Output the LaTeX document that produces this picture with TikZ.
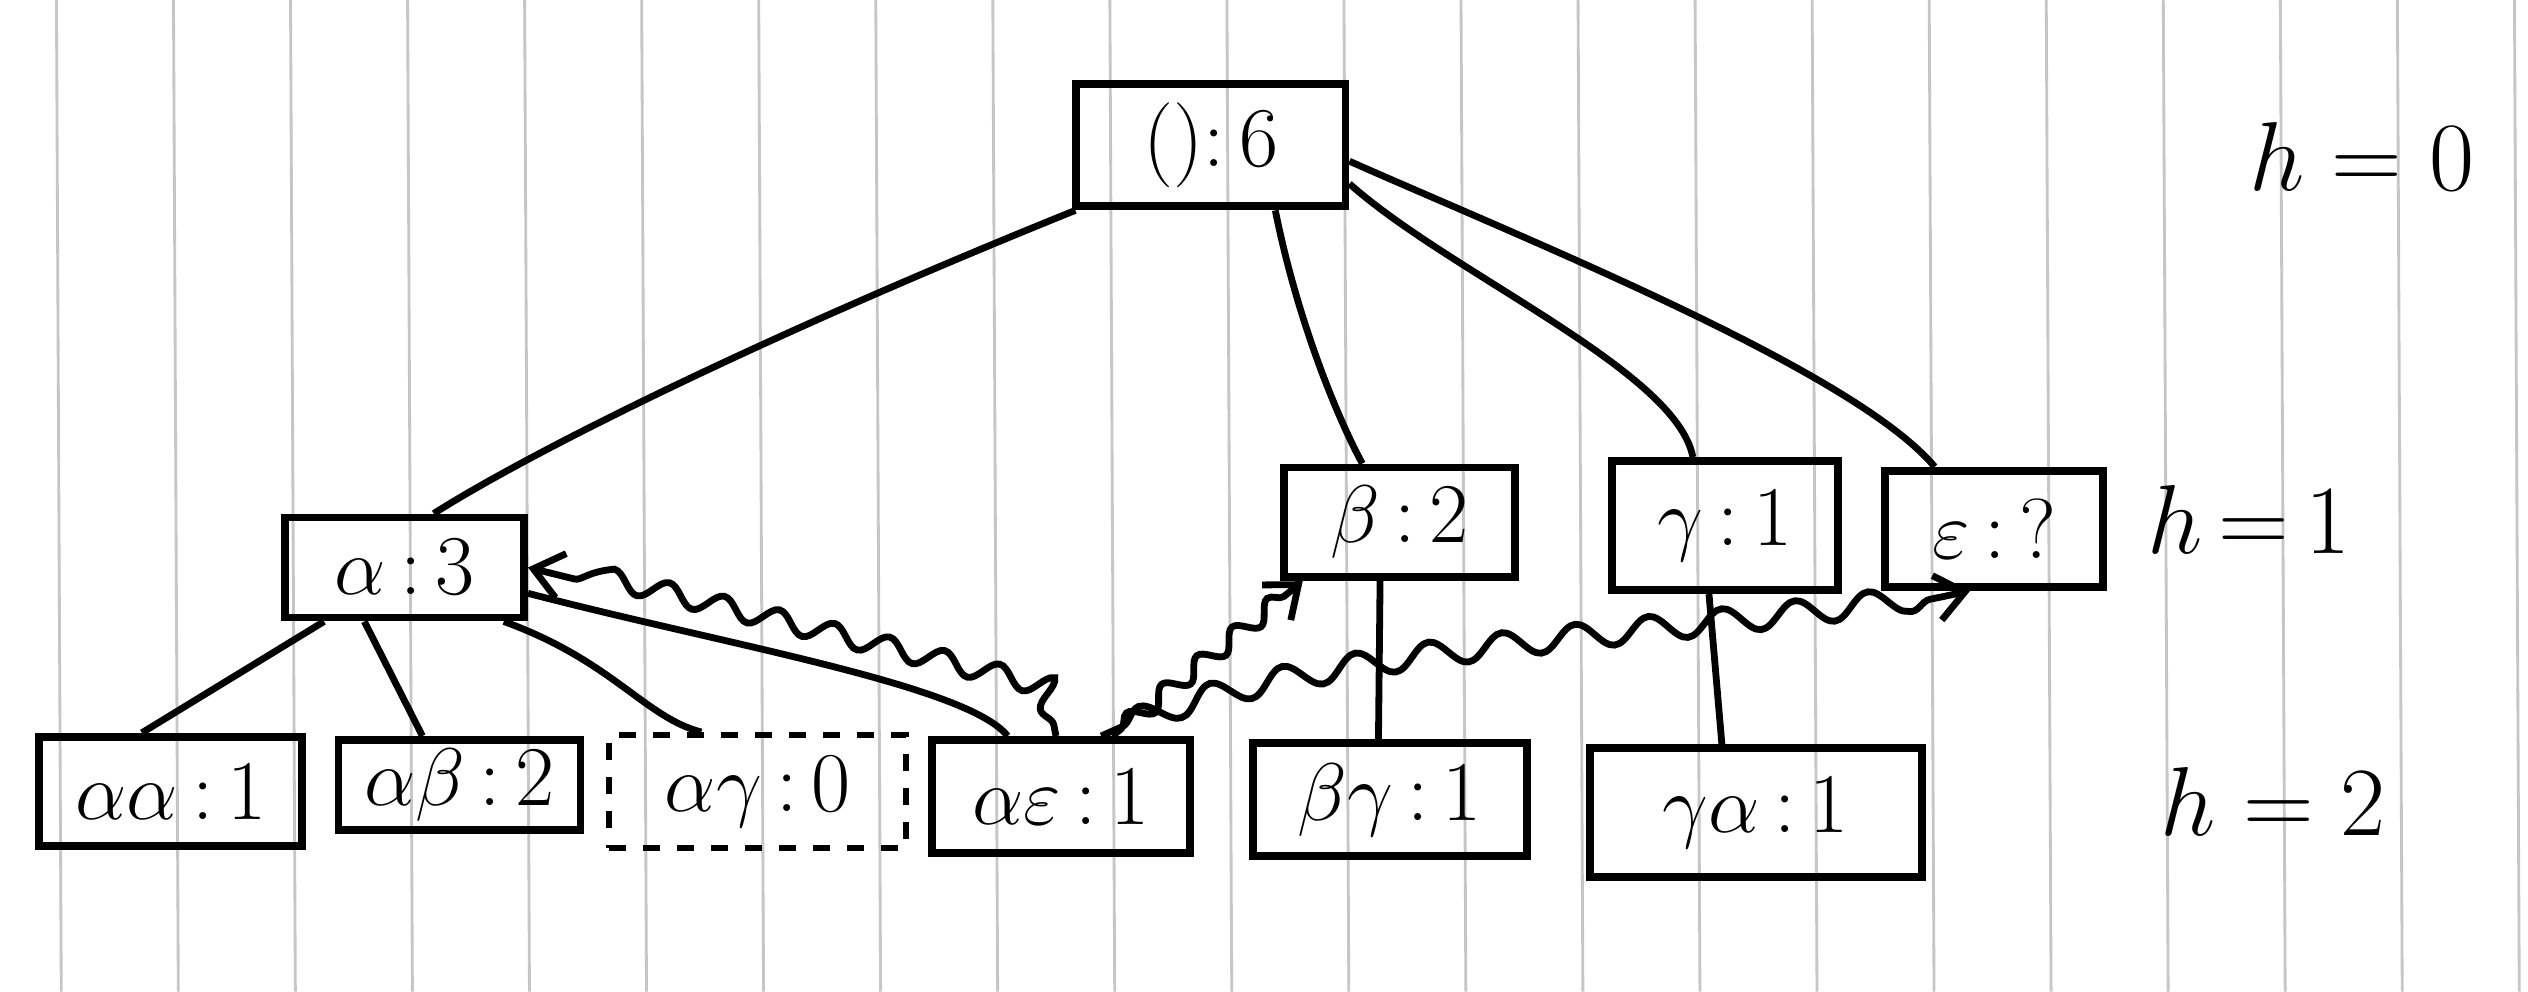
\documentclass[tikz,border=0pt]{standalone}
\usetikzlibrary{decorations.pathmorphing,arrows.meta,calc}
\begin{document}
\begin{tikzpicture}[x=0.01cm,y=-0.01cm,
  box/.style={draw,line width=1.4pt,inner sep=0pt,font=\fontsize{15}{18}\selectfont},
  dbox/.style={box,line width=1.1pt,dash pattern=on 3pt off 3pt},
  conn/.style={line width=1.2pt},
  wavy/.style={line width=1.2pt,decorate,decoration={snake,amplitude=1.8pt,segment length=10pt,pre length=2pt,post length=4pt},-{Straight Barb[length=5pt,width=8pt,line width=1.2pt]}},
  lbl/.style={font=\fontsize{17}{20}\selectfont},
  ruling/.style={gray!45,line width=0.5pt}]
\useasboundingbox[fill=white] (0,0) rectangle (1568,615);
% ruled paper
\foreach \i in {0,...,21}{
  \draw[ruling] ({35+72.6*\i},0) -- ({38+72.6*\i},615);
}
% level 0
\node[box,minimum width=1.67cm,minimum height=0.76cm] (r) at (751,90) {():\,6};
% level 1
\node[box,minimum width=1.48cm,minimum height=0.62cm] (a) at (251,352) {$\alpha$\,:\,3};
\node[box,minimum width=1.43cm,minimum height=0.68cm] (b) at (868,324) {$\beta$\,:\,2};
\node[box,minimum width=1.40cm,minimum height=0.80cm] (c) at (1070,326) {$\gamma$\,:\,1};
\node[box,minimum width=1.35cm,minimum height=0.72cm] (e) at (1237,328) {$\varepsilon$\,:\,?};
% level 2
\node[box,minimum width=1.63cm,minimum height=0.68cm] (aa) at (106,491) {$\alpha\alpha$\,:\,1};
\node[box,minimum width=1.50cm,minimum height=0.56cm] (ab) at (285,487) {$\alpha\beta$\,:\,2};
\node[dbox,minimum width=1.84cm,minimum height=0.70cm] (ag) at (470,491) {$\alpha\gamma$\,:\,0};
\node[box,minimum width=1.60cm,minimum height=0.70cm] (ae) at (658,494) {$\alpha\varepsilon$\,:\,1};
\node[box,minimum width=1.70cm,minimum height=0.70cm] (bg) at (862,496) {$\beta\gamma$\,:\,1};
\node[box,minimum width=2.06cm,minimum height=0.80cm] (ga) at (1089,504) {$\gamma\alpha$\,:\,1};
% level labels
\node[lbl] (h0) at (1465,97) {$h = 0$};
\node[lbl] (h1) at (1395,322) {$h\,{=}\,1$};
\node[lbl] (h2) at (1410,497) {$h = 2$};
% tree edges
\draw[conn] ($(r.south west)+(2,0)$) .. controls (470,210) and (330,280) .. ($(a.north)+(18,0)$);
\draw[conn] ($(r.south)+(40,0)$) .. controls (805,200) and (830,260) .. ($(b.north)+(-23,0)$);
\draw[conn] ($(r.east)+(0,24)$) .. controls (900,170) and (1040,230) .. ($(c.north)+(-20,0)$);
\draw[conn] ($(r.east)+(0,10)$) .. controls (950,150) and (1150,230) .. ($(e.north)+(-37,0)$);
\draw[conn] ($(a.south)+(-50,0)$) -- ($(aa.north)+(-18,0)$);
\draw[conn] ($(a.south)+(-25,0)$) -- ($(ab.north)+(-23,0)$);
\draw[conn] ($(a.south east)+(-15,0)$) .. controls (380,410) and (400,445) .. ($(ag.north)+(-35,0)$);
\draw[conn] ($(a.east)+(0,16)$) .. controls (450,400) and (600,425) .. ($(ae.north)+(-33,0)$);
\draw[conn] ($(b.south)+(-12,0)$) -- ($(bg.north)+(-7,0)$);
\draw[conn] ($(c.south)+(-10,0)$) -- ($(ga.north)+(-21,0)$);
% links
\draw[wavy] ($(ae.north)+(-3,0)$) -- ++(-5,-25) -- (a.east);
\draw[wavy,decoration={snake,amplitude=1.6pt,segment length=8pt,pre length=2pt,post length=4pt}] ($(ae.north)+(32,0)$) -- ($(b.south west)+(14,0)$);
\draw[wavy,decoration={snake,amplitude=2.2pt,segment length=13pt,pre length=4pt,post length=5pt}] ($(ae.north)+(25,0)$) .. controls (800,400) and (1100,395) .. ($(e.south)+(-15,0)$);
\end{tikzpicture}
\end{document}
